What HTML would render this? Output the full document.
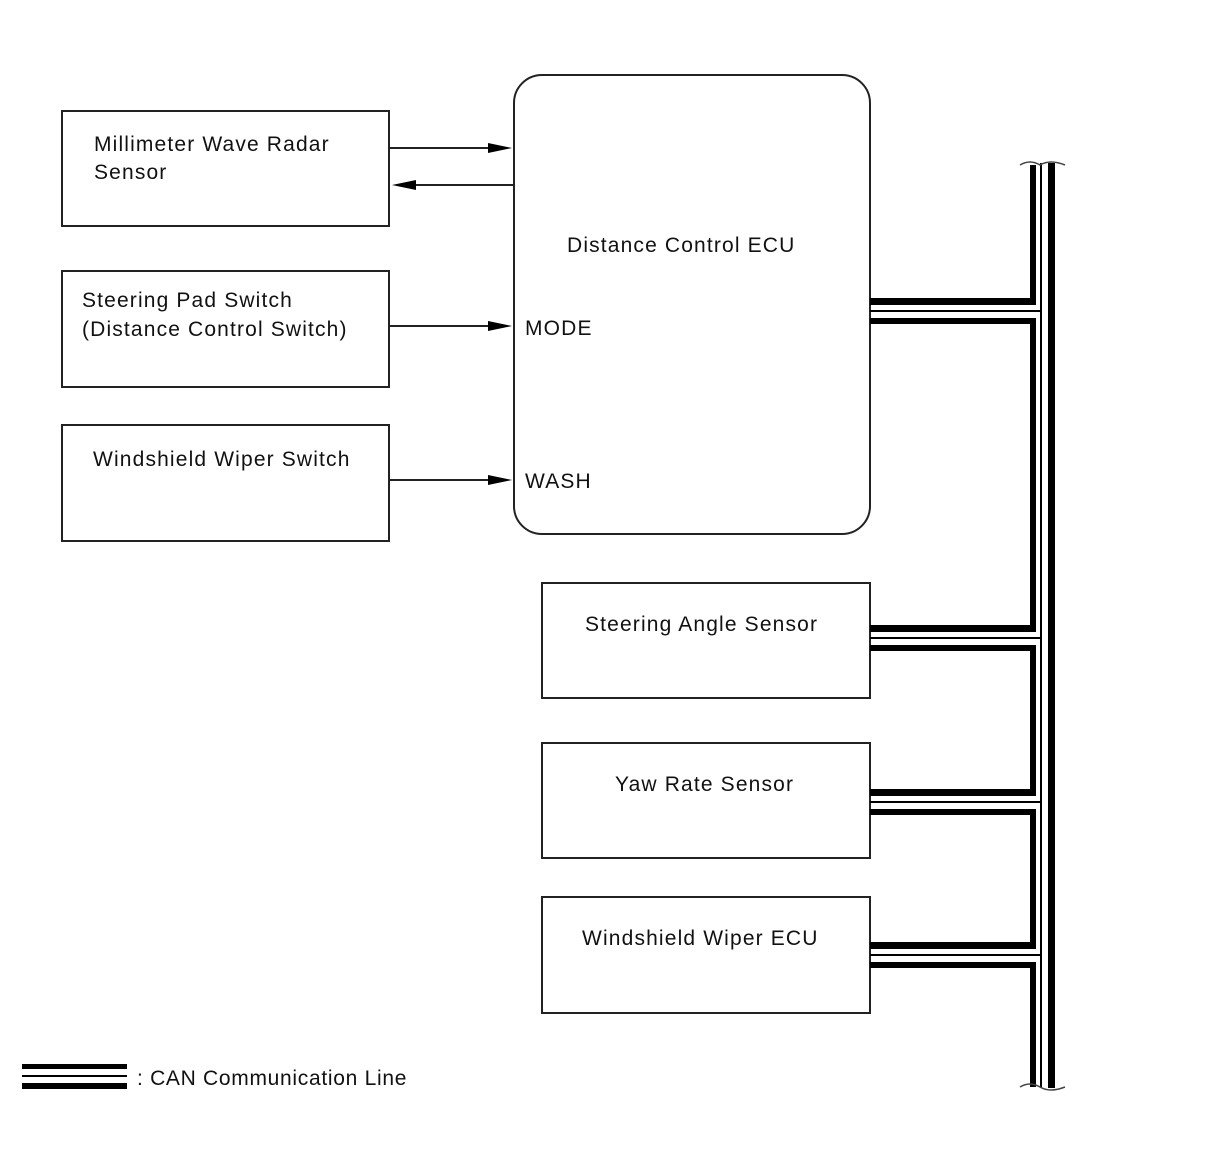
<!DOCTYPE html>
<html><head><style>
body{margin:0;background:#fff;}
svg{display:block;}
text{font-family:"Liberation Sans",Arial,sans-serif;font-size:21px;fill:#111;letter-spacing:1.15px;}
</style></head><body>
<svg width="1210" height="1156" viewBox="0 0 1210 1156" xmlns="http://www.w3.org/2000/svg">
<g fill="none" stroke="#222" stroke-width="2">
<rect x="62" y="111" width="327" height="115"/>
<rect x="62" y="271" width="327" height="116"/>
<rect x="62" y="425" width="327" height="116"/>
<rect x="514" y="75" width="356" height="459" rx="28"/>
<rect x="542" y="583" width="328" height="115"/>
<rect x="542" y="743" width="328" height="115"/>
<rect x="542" y="897" width="328" height="116"/>
<line x1="389" y1="148" x2="495" y2="148"/>
<line x1="412" y1="185" x2="514" y2="185"/>
<line x1="389" y1="326" x2="495" y2="326"/>
<line x1="389" y1="480" x2="495" y2="480"/>
</g>
<g fill="#000">
<polygon points="488,143 512,148 488,153"/>
<polygon points="416,180 392,185 416,190"/>
<polygon points="488,321 512,326 488,331"/>
<polygon points="488,475 512,480 488,485"/>
</g>
<text x="94" y="151">Millimeter Wave Radar</text>
<text x="94" y="179">Sensor</text>
<text x="82" y="307">Steering Pad Switch</text>
<text x="82" y="336">(Distance Control Switch)</text>
<text x="93" y="466">Windshield Wiper Switch</text>
<text x="567" y="252">Distance Control ECU</text>
<text x="525" y="335">MODE</text>
<text x="525" y="488">WASH</text>
<text x="585" y="631">Steering Angle Sensor</text>
<text x="615" y="791">Yaw Rate Sensor</text>
<text x="582" y="945">Windshield Wiper ECU</text>
<text x="137" y="1085" style="letter-spacing:0.7px">: CAN Communication Line</text>
<g fill="#000">
<rect x="1048" y="163" width="7" height="925"/>
<rect x="1040" y="163" width="2" height="925"/>
<rect x="1030" y="165" width="6" height="140"/>
<rect x="1030" y="318" width="6" height="314"/>
<rect x="1030" y="645" width="6" height="151"/>
<rect x="1030" y="809" width="6" height="140"/>
<rect x="1030" y="962" width="6" height="125"/>
<rect x="870" y="298" width="166" height="7"/>
<rect x="870" y="310" width="172" height="2"/>
<rect x="870" y="318" width="166" height="6"/>
<rect x="870" y="625" width="166" height="7"/>
<rect x="870" y="637" width="172" height="2"/>
<rect x="870" y="645" width="166" height="6"/>
<rect x="870" y="789" width="166" height="7"/>
<rect x="870" y="801" width="172" height="2"/>
<rect x="870" y="809" width="166" height="6"/>
<rect x="870" y="942" width="166" height="7"/>
<rect x="870" y="954" width="172" height="2"/>
<rect x="870" y="962" width="166" height="6"/>
<rect x="22" y="1064" width="105" height="5"/>
<rect x="22" y="1075" width="105" height="2"/>
<rect x="22" y="1083" width="105" height="6"/>
</g>
<g fill="none" stroke="#444" stroke-width="1.5">
<path d="M1020,165 q10,-6 20,0 q10,-6 25,0"/>
<path d="M1020,1087 q10,-6 20,0 q10,6 25,0"/>
</g>
</svg>
</body></html>
